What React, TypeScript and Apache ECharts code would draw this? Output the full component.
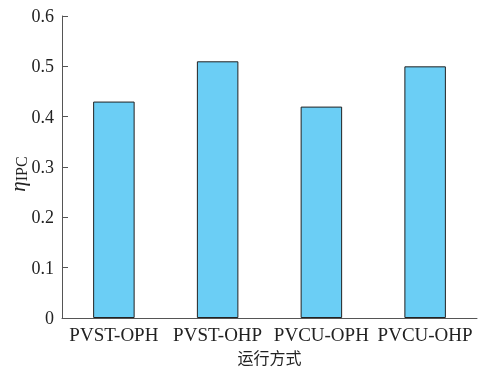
import React, { useEffect, useRef } from "react";
import * as echarts from "echarts";

const categories = ["PVST-OPH", "PVST-OHP", "PVCU-OPH", "PVCU-OHP"];
const values = [0.43, 0.51, 0.42, 0.5];
const xName = "运行方式";

export default function App() {
  const ref = useRef<HTMLDivElement>(null);
  useEffect(() => {
    if (!ref.current) return;
    const chart = echarts.init(ref.current, undefined, { renderer: "svg" });
    const serif = "Liberation Serif";
    chart.setOption({
      animation: false,
      grid: { left: 62, right: 12, top: 16, bottom: 50, outerBoundsMode: "none", containLabel: false },
      xAxis: {
        type: "category",
        data: categories,
        name: xName,
        nameLocation: "middle",
        nameGap: 31,
        nameMoveOverlap: false,
        nameTextStyle: { fontFamily: "Noto Sans CJK SC", fontSize: 16, color: "#222" },
        axisLine: { lineStyle: { color: "#555", width: 1 } },
        axisTick: { inside: true, length: 6, lineStyle: { color: "#555" } },
        axisLabel: { fontFamily: serif, fontSize: 19, color: "#222", margin: 7, interval: 0 },
      },
      yAxis: {
        type: "value",
        min: 0,
        max: 0.6,
        interval: 0.1,
        name: "{i|η}{s|IPC}",
        nameLocation: "middle",
        nameRotate: 90,
        nameGap: 33,
        nameMoveOverlap: false,
        nameTextStyle: {
          rich: {
            i: { fontFamily: serif, fontStyle: "italic", fontSize: 21, color: "#222" },
            s: { fontFamily: serif, fontSize: 16, color: "#222", padding: [7, 14, 0, 0] },
          },
        },
        splitLine: { show: false },
        axisLine: { show: true, lineStyle: { color: "#555", width: 1 } },
        axisTick: { show: true, inside: true, length: 6, lineStyle: { color: "#555" } },
        axisLabel: {
          fontFamily: serif,
          fontSize: 18,
          color: "#222",
          margin: 8,
          formatter: (v: number) => (v === 0 ? "0" : v.toFixed(1)),
        },
      },
      series: [
        {
          type: "bar",
          data: values,
          barWidth: "40%",
          itemStyle: { color: "#6BCEF5", borderColor: "#222", borderWidth: 1 },
        },
      ],
    });
    return () => chart.dispose();
  }, []);
  return <div ref={ref} style={{ position: "fixed", left: 0, top: 0, width: 489, height: 368 }} />;
}
